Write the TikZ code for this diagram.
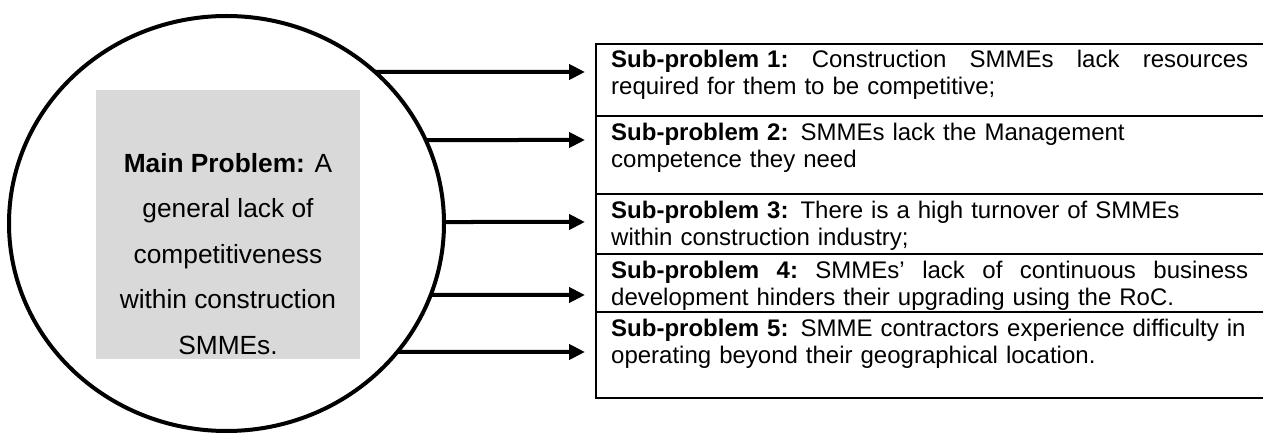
\documentclass[tikz,border=0pt]{standalone}
\usepackage{fontspec}
\setmainfont{Liberation Sans}
\usetikzlibrary{shapes.geometric,arrows.meta,calc}

\tikzset{
  core/.style={draw, ellipse, line width=4pt, inner sep=0pt,
    minimum width=435pt, minimum height=415pt},
  graybox/.style={fill=black!15, draw=none, inner sep=0pt,
    minimum width=264pt, minimum height=269pt},
  maintext/.style={inner sep=0pt, align=center,
    font=\fontsize{26.3pt}{45.6pt}\selectfont},
  subtext/.style={inner sep=0pt, anchor=north west, text width=650pt,
    align=left, font=\fontsize{24pt}{27.6pt}\selectfont},
  rule/.style={line width=2.2pt},
  feed/.style={line width=4pt, -{Triangle[length=16pt,width=15pt]}}
}
% strut fixing the height of a first line (its baseline lies 20pt under the node top)
\newcommand{\firstline}{\rule{0pt}{20pt}}
% a line whose word gaps stretch to the full column width
\newcommand{\spreadline}[1]{\hbox to 637pt{#1}}

\begin{document}
\begin{tikzpicture}[x=1pt, y=-1pt]
\useasboundingbox (0,0) rectangle (1263,435);

% main problem: ellipse with a shaded card inside
\node[core] (main) at (226.5,223.5) {};
\node[graybox] (card) at (228,224.5) {};
\node[maintext] (mtxt) at (228,254)
  {\textbf{Main Problem:} A\\general lack of\\competitiveness\\within construction\\SMMEs.};

% table of sub-problems (open on the right)
\draw[rule] (596,43) -- (596,399);
\foreach \y in {44,116,194,254,312,398}
  \draw[rule] (595,\y) -- (1263,\y);

\node[subtext] (s1) at (611,47)
  {\firstline\spreadline{\textbf{Sub-problem 1:}\hfill Construction\hfill SMMEs\hfill lack\hfill resources}\\
   required for them to be competitive;};
\node[subtext] (s2) at (611,120)
  {\firstline\textbf{Sub-problem 2:} SMMEs lack the Management\\competence they need};
\node[subtext] (s3) at (611,198)
  {\firstline\textbf{Sub-problem 3:} There is a high turnover of SMMEs\\within construction industry;};
\node[subtext] (s4) at (611,258)
  {\firstline\spreadline{\textbf{Sub-problem\hfill 4:}\hfill SMMEs’\hfill lack\hfill of\hfill continuous\hfill business}\\
   development hinders their upgrading using the RoC.};
\node[subtext] (s5) at (611,316)
  {\firstline\textbf{Sub-problem 5:} SMME contractors experience difficulty in\\
   operating beyond their geographical location.};

% arrow start points on the ellipse and tips beside the table
\foreach \i/\y in {1/72,2/140,3/222,4/295,5/352}{
  \coordinate (a\i) at ($(main.center)+({asin((\y-223.5)/207.5)}:217.5 and 207.5)$);
  \coordinate (b\i) at (585,\y);
}
\foreach \i in {1,...,5}
  \draw[feed] (a\i) -- (b\i);
\end{tikzpicture}
\end{document}
